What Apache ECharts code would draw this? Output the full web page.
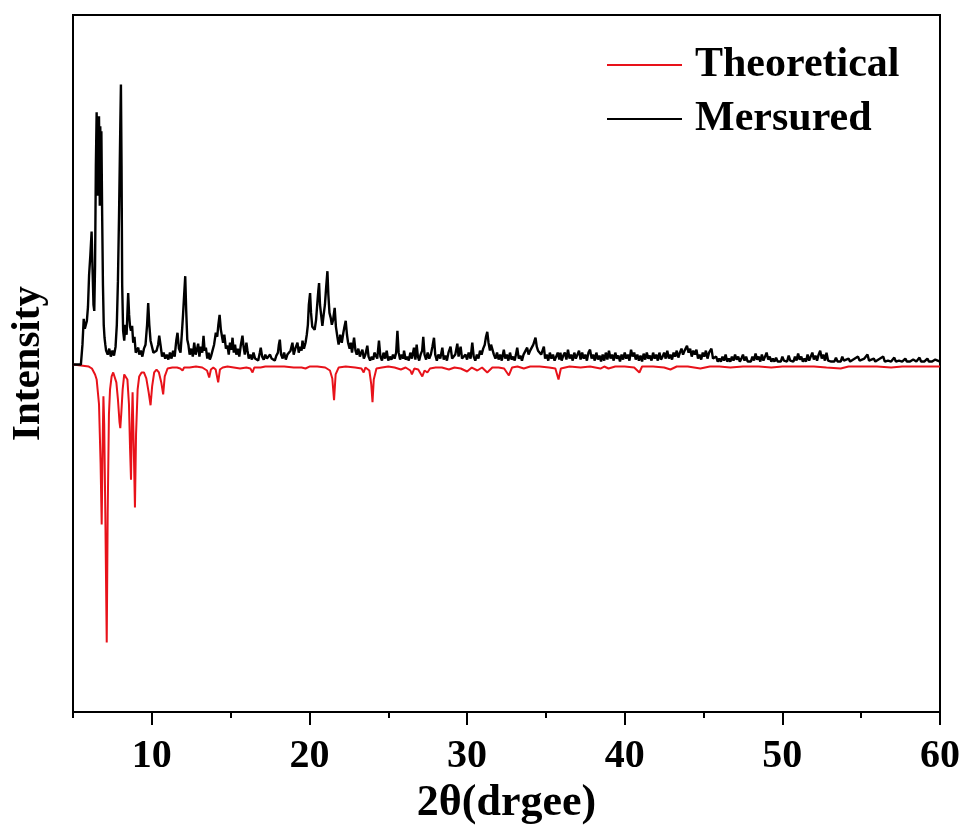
<!DOCTYPE html>
<html>
<head>
<meta charset="utf-8">
<script src="https://cdn.jsdelivr.net/npm/echarts@6/dist/echarts.min.js"></script>
<style>
html,body{margin:0;padding:0;background:#fff;}
#chart{width:965px;height:831px;}
</style>
</head>
<body>
<div id="chart"></div>
<script>
// x-axis (2θ) tick values
const majorTicks = [10, 20, 30, 40, 50, 60];
const minorTicks = [5, 15, 25, 35, 45, 55];
const seriesNames = ['Theoretical', 'Mersured'];

// Theoretical pattern [2θ, intensity] (plotted downward)
const theoretical = [
[5.0,0],[5.5,-1],[6.0,-2],[6.2,-4],[6.4,-10],[6.5,-15],[6.65,-40],[6.75,-100],[6.82,-161],[6.88,-80],
[6.93,-32],[6.98,-60],[7.05,-150],[7.14,-280],[7.2,-150],[7.28,-50],[7.35,-25],[7.45,-12],[7.55,-8],[7.65,-10],
[7.75,-18],[7.85,-35],[7.95,-58],[8.0,-64],[8.06,-50],[8.15,-25],[8.25,-10],[8.35,-8],[8.45,-15],[8.55,-40],
[8.62,-85],[8.68,-116],[8.73,-60],[8.78,-28],[8.85,-80],[8.93,-144],[9.0,-70],[9.1,-25],[9.2,-12],[9.35,-8],
[9.5,-8],[9.65,-14],[9.8,-28],[9.92,-41],[10.02,-22],[10.15,-8],[10.3,-5],[10.45,-8],[10.6,-18],[10.72,-30],
[10.82,-12],[11.0,-4],[11.3,-3],[11.6,-3],[11.8,-4],[11.95,-6],[12.05,-3],[12.4,-3],[12.8,-2],[13.2,-3],
[13.5,-6],[13.64,-13],[13.75,-5],[13.9,-3],[14.05,-5],[14.21,-18],[14.32,-5],[14.5,-3],[14.8,-2],[15.2,-3],
[15.6,-4],[16.0,-3],[16.25,-4],[16.39,-8],[16.5,-3],[16.9,-3],[17.02,-5],[17.2,-2],[17.8,-2],[18.4,-2],
[19.0,-3],[19.5,-3],[19.75,-4],[19.87,-5],[20.0,-2],[20.5,-2],[21.0,-3],[21.3,-6],[21.45,-14],[21.56,-36],
[21.66,-10],[21.85,-3],[22.3,-2],[22.9,-3],[23.3,-4],[23.44,-8],[23.55,-3],[23.8,-6],[23.92,-20],[24.0,-38],
[24.08,-15],[24.25,-4],[24.6,-3],[25.0,-2],[25.4,-3],[25.8,-5],[26.1,-3],[26.4,-6],[26.5,-10],[26.65,-4],
[26.9,-5],[27.16,-12],[27.3,-6],[27.48,-8],[27.65,-4],[28.0,-3],[28.4,-3],[28.85,-5],[29.2,-3],[29.6,-4],
[30.0,-7],[30.3,-3],[30.65,-6],[30.95,-3],[31.28,-8],[31.6,-3],[32.0,-3],[32.35,-4],[32.65,-11],[32.85,-3],
[33.2,-2],[33.6,-4],[34.0,-2],[34.6,-2],[35.2,-3],[35.6,-4],[35.8,-15],[35.95,-4],[36.5,-2],[37.2,-3],
[37.8,-2],[38.46,-4],[38.7,-2],[38.97,-4],[39.4,-2],[40.0,-2],[40.6,-3],[40.93,-8],[41.1,-2],[41.8,-2],
[42.5,-3],[42.9,-5],[43.3,-2],[44.0,-2],[44.8,-4],[45.4,-2],[46.0,-2],[46.7,-3],[47.5,-2],[48.5,-2],
[49.3,-3],[50.0,-2],[51.0,-2],[52.0,-2],[52.8,-3],[53.7,-4],[54.2,-2],[55.0,-2],[56.0,-2],[56.9,-3],
[57.6,-2],[58.5,-2],[59.3,-2],[60.0,-2]
];

// Measured pattern [2θ, intensity]
const measured = [
[5.0,0],[5.5,0],[5.6,20],[5.68,46],[5.75,36],[5.82,38],[5.88,44],[5.95,58],[6.02,90],[6.1,110],
[6.18,134],[6.25,90],[6.3,60],[6.35,54],[6.4,100],[6.45,200],[6.5,254],[6.55,170],[6.6,230],[6.65,250],
[6.7,160],[6.73,240],[6.76,200],[6.8,235],[6.85,150],[6.9,80],[6.95,40],[7.0,27],[7.05,20],[7.1,14],
[7.2,10],[7.3,16],[7.4,8],[7.5,14],[7.6,9],[7.7,18],[7.78,40],[7.85,84],[7.92,150],[8.0,240],
[8.04,282],[8.08,200],[8.12,80],[8.18,34],[8.25,24],[8.32,40],[8.4,30],[8.5,72],[8.56,50],[8.62,38],
[8.68,34],[8.75,39],[8.82,22],[8.9,28],[8.98,12],[9.05,10],[9.14,17],[9.2,10],[9.3,14],[9.4,8],
[9.5,16],[9.6,20],[9.7,40],[9.77,62],[9.84,40],[9.92,24],[10.0,24],[10.1,12],[10.2,10],[10.3,14],
[10.4,20],[10.47,29],[10.55,20],[10.65,8],[10.75,12],[10.85,6],[10.95,10],[11.05,5],[11.15,12],[11.25,6],
[11.35,14],[11.45,8],[11.55,24],[11.63,32],[11.72,16],[11.82,12],[11.9,30],[11.98,50],[12.05,70],[12.12,89],
[12.18,55],[12.25,25],[12.32,20],[12.4,10],[12.5,16],[12.6,8],[12.69,22],[12.78,10],[12.86,15],[12.94,21],
[13.02,8],[13.1,18],[13.2,12],[13.28,29],[13.35,14],[13.43,17],[13.52,6],[13.6,12],[13.68,5],[13.75,8],
[13.85,14],[13.95,20],[14.06,32],[14.15,28],[14.22,40],[14.3,50],[14.38,35],[14.45,33],[14.52,22],[14.6,30],
[14.7,16],[14.8,19],[14.88,10],[14.96,22],[15.05,15],[15.12,27],[15.2,12],[15.28,20],[15.36,10],[15.45,16],
[15.55,8],[15.65,20],[15.75,29],[15.82,18],[15.9,10],[16.0,22],[16.07,14],[16.15,6],[16.25,10],[16.35,5],
[16.45,12],[16.55,6],[16.65,8],[16.75,4],[16.85,12],[16.91,17],[17.0,8],[17.1,5],[17.2,10],[17.3,6],
[17.4,4],[17.5,10],[17.6,6],[17.7,8],[17.8,4],[17.9,9],[18.0,12],[18.06,20],[18.12,25],[18.2,10],
[18.3,6],[18.39,12],[18.5,5],[18.6,10],[18.7,8],[18.8,14],[18.92,22],[19.0,10],[19.1,16],[19.24,22],
[19.32,12],[19.4,18],[19.5,14],[19.56,24],[19.65,16],[19.75,22],[19.83,30],[19.9,40],[19.96,60],[20.04,72],
[20.1,52],[20.18,38],[20.25,40],[20.33,35],[20.42,45],[20.5,62],[20.56,74],[20.61,82],[20.67,60],[20.74,50],
[20.82,39],[20.9,50],[20.98,60],[21.06,78],[21.14,94],[21.2,70],[21.27,52],[21.35,47],[21.42,40],[21.5,45],
[21.6,57],[21.68,38],[21.77,28],[21.85,20],[21.95,30],[22.05,22],[22.15,32],[22.22,38],[22.3,44],[22.38,30],
[22.45,22],[22.55,16],[22.62,22],[22.7,12],[22.83,27],[22.92,14],[23.0,10],[23.1,16],[23.2,8],[23.28,12],
[23.36,15],[23.45,6],[23.55,10],[23.67,19],[23.75,8],[23.85,4],[23.95,8],[24.05,5],[24.12,12],[24.2,10],
[24.3,6],[24.41,24],[24.5,8],[24.6,4],[24.7,12],[24.8,6],[24.9,14],[25.0,4],[25.1,8],[25.2,5],
[25.3,10],[25.4,6],[25.5,12],[25.58,34],[25.66,12],[25.75,5],[25.85,10],[25.95,6],[26.0,14],[26.1,5],
[26.2,8],[26.3,4],[26.4,12],[26.5,6],[26.63,17],[26.72,5],[26.8,20],[26.88,8],[26.96,4],[27.05,10],
[27.15,14],[27.22,28],[27.3,10],[27.4,5],[27.5,12],[27.6,6],[27.7,10],[27.8,18],[27.9,27],[27.98,10],
[28.08,4],[28.18,10],[28.3,6],[28.43,17],[28.52,5],[28.62,9],[28.72,4],[28.82,12],[28.95,18],[29.05,6],
[29.15,4],[29.25,10],[29.38,21],[29.46,8],[29.59,18],[29.68,6],[29.78,4],[29.9,10],[30.0,5],[30.1,12],
[30.22,6],[30.33,22],[30.42,8],[30.52,4],[30.62,10],[30.72,6],[30.82,14],[30.92,10],[31.02,16],[31.12,20],
[31.2,28],[31.28,33],[31.36,22],[31.45,14],[31.52,20],[31.6,22],[31.7,10],[31.8,6],[31.9,12],[32.0,5],
[32.1,10],[32.2,4],[32.33,15],[32.42,6],[32.52,10],[32.62,4],[32.72,12],[32.82,5],[32.92,8],[33.02,4],
[33.1,10],[33.18,17],[33.28,6],[33.38,9],[33.48,4],[33.58,10],[33.7,8],[33.81,17],[33.9,10],[34.0,14],
[34.1,12],[34.2,20],[34.28,24],[34.34,27],[34.42,18],[34.5,14],[34.6,16],[34.7,10],[34.8,12],[34.87,18],
[34.95,6],[35.05,10],[35.15,4],[35.25,12],[35.35,6],[35.45,10],[35.55,4],[35.65,8],[35.75,12],[35.85,5],
[35.92,12],[36.0,4],[36.1,9],[36.2,12],[36.3,5],[36.4,15],[36.5,6],[36.6,10],[36.7,4],[36.8,12],
[36.9,6],[37.0,8],[37.1,14],[37.2,5],[37.3,12],[37.4,6],[37.5,10],[37.6,4],[37.7,12],[37.8,15],
[37.9,6],[38.0,10],[38.1,4],[38.2,12],[38.3,5],[38.4,9],[38.5,3],[38.6,10],[38.7,4],[38.8,12],
[38.9,5],[39.0,14],[39.1,6],[39.2,10],[39.3,4],[39.4,12],[39.5,6],[39.6,9],[39.7,3],[39.8,10],
[39.9,5],[40.0,12],[40.1,6],[40.2,10],[40.3,4],[40.4,15],[40.5,8],[40.6,12],[40.7,5],[40.8,10],
[40.9,4],[41.0,9],[41.1,3],[41.2,11],[41.3,5],[41.4,12],[41.5,6],[41.6,9],[41.7,4],[41.8,12],
[41.9,6],[42.0,10],[42.1,4],[42.2,12],[42.3,5],[42.4,8],[42.5,12],[42.6,6],[42.7,14],[42.8,6],
[42.9,10],[43.0,5],[43.1,12],[43.2,8],[43.3,14],[43.4,7],[43.5,12],[43.6,16],[43.7,10],[43.8,14],
[43.95,19],[44.05,12],[44.15,16],[44.25,8],[44.35,14],[44.45,10],[44.55,15],[44.65,6],[44.75,10],[44.85,5],
[44.95,12],[45.05,8],[45.15,14],[45.25,6],[45.35,12],[45.5,16],[45.6,6],[45.7,4],[45.8,8],[45.9,3],
[46.0,6],[46.1,3],[46.2,8],[46.3,4],[46.4,10],[46.5,3],[46.6,6],[46.7,3],[46.8,8],[46.9,4],
[47.0,10],[47.1,5],[47.2,8],[47.3,3],[47.4,6],[47.5,10],[47.6,4],[47.7,8],[47.8,3],[47.9,5],
[48.0,3],[48.1,8],[48.2,4],[48.3,11],[48.4,5],[48.5,8],[48.6,3],[48.7,10],[48.8,4],[48.9,6],
[49.0,12],[49.1,5],[49.2,8],[49.3,3],[49.4,6],[49.5,3],[49.6,7],[49.7,3],[49.8,5],[49.9,3],
[50.0,8],[50.1,4],[50.2,6],[50.3,3],[50.4,9],[50.5,4],[50.6,6],[50.7,3],[50.8,8],[50.9,4],
[51.0,11],[51.1,5],[51.2,8],[51.3,3],[51.4,6],[51.5,3],[51.6,10],[51.7,4],[51.8,8],[51.9,12],
[52.0,5],[52.1,9],[52.2,4],[52.3,10],[52.4,14],[52.5,6],[52.6,10],[52.7,4],[52.8,12],[52.9,4],
[53.0,6],[53.1,3],[53.2,5],[53.3,3],[53.4,7],[53.5,3],[53.6,5],[53.7,3],[53.8,8],[53.9,4],
[54.0,3],[54.2,6],[54.3,3],[54.5,5],[54.6,3],[54.8,8],[54.9,4],[55.0,3],[55.2,6],[55.4,10],
[55.5,4],[55.6,3],[55.8,6],[55.9,3],[56.1,5],[56.2,3],[56.4,8],[56.5,3],[56.7,4],[56.9,3],
[57.1,7],[57.2,3],[57.4,4],[57.6,3],[57.8,6],[57.9,3],[58.1,3],[58.3,5],[58.5,3],[58.7,7],
[58.8,3],[59.0,3],[59.2,6],[59.3,3],[59.5,3],[59.7,5],[59.8,3],[60.0,3]
];

const FONT = "'Liberation Serif', 'Times New Roman', serif";
const chart = echarts.init(document.getElementById('chart'), null, {renderer: 'canvas'});
chart.setOption({
  animation: false,
  backgroundColor: '#fff',
  grid: {left: 72, right: 25, top: 15, bottom: 114, show: true, borderColor: '#000', borderWidth: 2, containLabel: false},
  legend: {
    orient: 'vertical', left: 607, top: 43, itemGap: 10, padding: 0,
    itemWidth: 75, itemHeight: 2, icon: 'rect',
    data: seriesNames,
    textStyle: {fontFamily: FONT, fontWeight: 'bold', fontSize: 42, color: '#000', lineHeight: 44, padding: [0, 0, 0, 8]}
  },
  xAxis: [{
    type: 'value', min: 5, max: 60, position: 'bottom',
    name: '2θ(drgee)', nameLocation: 'middle', nameGap: 65,
    nameTextStyle: {fontFamily: FONT, fontWeight: 'bold', fontSize: 44, color: '#000'},
    axisLine: {show: true, onZero: false, lineStyle: {color: '#000', width: 2}},
    axisTick: {show: true, inside: false, length: 13, lineStyle: {color: '#000', width: 2}, customValues: majorTicks},
    axisLabel: {show: true, margin: 25, fontFamily: FONT, fontWeight: 'bold', fontSize: 40, color: '#000', customValues: majorTicks},
    splitLine: {show: false}
  }, {
    type: 'value', min: 5, max: 60, position: 'bottom',
    axisLine: {show: true, onZero: false, lineStyle: {color: '#000', width: 2}},
    axisTick: {show: true, inside: false, length: 6, lineStyle: {color: '#000', width: 2}, customValues: minorTicks},
    axisLabel: {show: false},
    splitLine: {show: false}
  }],
  yAxis: {
    type: 'value', min: -350, max: 352,
    name: 'Intensity', nameLocation: 'middle', nameGap: 24,
    nameTextStyle: {fontFamily: FONT, fontWeight: 'bold', fontSize: 41, color: '#000'},
    axisLine: {show: true, onZero: false, lineStyle: {color: '#000', width: 2}},
    axisTick: {show: false},
    axisLabel: {show: false},
    splitLine: {show: false}
  },
  series: [{
    name: seriesNames[0], type: 'line', data: theoretical, xAxisIndex: 0,
    showSymbol: false, symbol: 'none', smooth: false,
    lineStyle: {color: '#e8121a', width: 2}, itemStyle: {color: '#e8121a'}
  }, {
    name: seriesNames[1], type: 'line', data: measured, xAxisIndex: 0,
    showSymbol: false, symbol: 'none', smooth: false,
    lineStyle: {color: '#000', width: 2.4}, itemStyle: {color: '#000'}
  }]
});
</script>
</body>
</html>
